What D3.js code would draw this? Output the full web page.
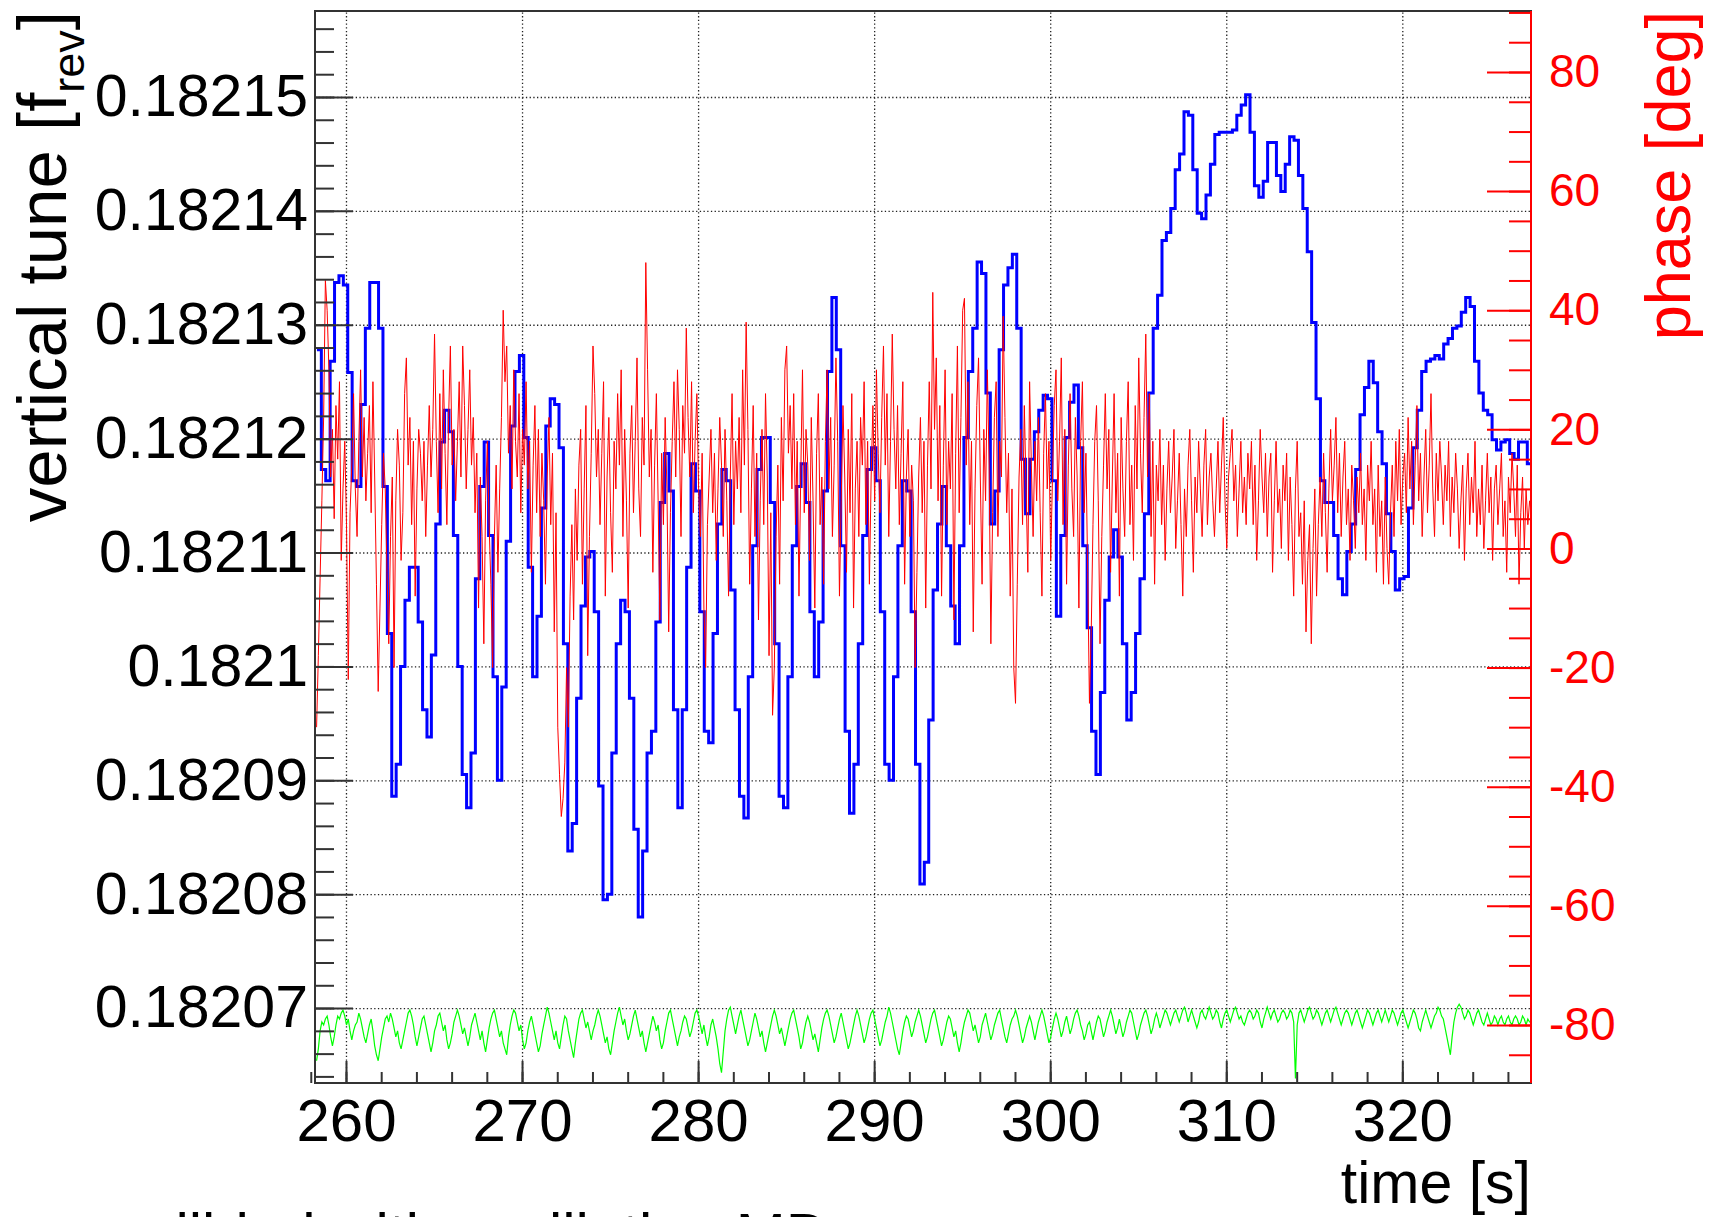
<!DOCTYPE html>
<html>
<head>
<meta charset="utf-8">
<script src="https://cdn.jsdelivr.net/npm/d3@7"></script>
<style>
  html, body { margin: 0; padding: 0; background: #fff; }
  svg { display: block; }
</style>
</head>
<body>
<div id="chart"></div>
<script>
"use strict";

/* ── Data: vertical tune (blue, left axis), sampled every 0.25 s ── */
const tuneStart = 258.35, tuneStep = 0.25;
const tuneValues = [
  0.1821278, 0.1821173, 0.1821163, 0.1821268, 0.1821337, 0.1821343, 0.1821335, 0.1821258, 0.1821163, 0.1821158,
  0.1821230, 0.1821297, 0.1821337, 0.1821337, 0.1821297, 0.1821158, 0.1821029, 0.1820886, 0.1820914, 0.1821000,
  0.1821058, 0.1821087, 0.1821087, 0.1821039, 0.1820962, 0.1820938, 0.1821010, 0.1821125, 0.1821197, 0.1821225,
  0.1821206, 0.1821115, 0.1821000, 0.1820905, 0.1820876, 0.1820924, 0.1821077, 0.1821158, 0.1821197, 0.1821115,
  0.1820991, 0.1820900, 0.1820982, 0.1821110, 0.1821211, 0.1821259, 0.1821273, 0.1821201, 0.1821087, 0.1820991,
  0.1821044, 0.1821139, 0.1821211, 0.1821235, 0.1821230, 0.1821192, 0.1821020, 0.1820838, 0.1820862, 0.1820972,
  0.1821053, 0.1821096, 0.1821101, 0.1821048, 0.1820895, 0.1820795, 0.1820800, 0.1820924, 0.1821020, 0.1821058,
  0.1821048, 0.1820972, 0.1820857, 0.1820780, 0.1820838, 0.1820924, 0.1820943, 0.1821039, 0.1821144, 0.1821187,
  0.1821154, 0.1820962, 0.1820876, 0.1820962, 0.1821087, 0.1821178, 0.1821154, 0.1821048, 0.1820943, 0.1820933,
  0.1821029, 0.1821125, 0.1821173, 0.1821163, 0.1821067, 0.1820962, 0.1820886, 0.1820867, 0.1820991, 0.1821106,
  0.1821173, 0.1821201, 0.1821201, 0.1821144, 0.1821020, 0.1820886, 0.1820876, 0.1820991, 0.1821106, 0.1821158,
  0.1821178, 0.1821144, 0.1821048, 0.1820991, 0.1821039, 0.1821154, 0.1821259, 0.1821324, 0.1821278, 0.1821106,
  0.1820943, 0.1820871, 0.1820914, 0.1821020, 0.1821115, 0.1821173, 0.1821192, 0.1821163, 0.1821048, 0.1820914,
  0.1820900, 0.1820991, 0.1821106, 0.1821163, 0.1821154, 0.1821048, 0.1820914, 0.1820809, 0.1820828, 0.1820953,
  0.1821067, 0.1821125, 0.1821158, 0.1821106, 0.1821053, 0.1821020, 0.1821106, 0.1821201, 0.1821259, 0.1821297,
  0.1821355, 0.1821345, 0.1821240, 0.1821125, 0.1821154, 0.1821278, 0.1821335, 0.1821350, 0.1821362, 0.1821297,
  0.1821182, 0.1821134, 0.1821182, 0.1821206, 0.1821225, 0.1821238, 0.1821235, 0.1821163, 0.1821044, 0.1821115,
  0.1821201, 0.1821232, 0.1821247, 0.1821192, 0.1821106, 0.1821034, 0.1820943, 0.1820905, 0.1820977, 0.1821058,
  0.1821096, 0.1821120, 0.1821096, 0.1821020, 0.1820953, 0.1820977, 0.1821029, 0.1821077, 0.1821134, 0.1821240,
  0.1821297, 0.1821326, 0.1821374, 0.1821381, 0.1821402, 0.1821436, 0.1821450, 0.1821487, 0.1821484, 0.1821436,
  0.1821398, 0.1821393, 0.1821414, 0.1821441, 0.1821467, 0.1821469, 0.1821469, 0.1821469, 0.1821471, 0.1821484,
  0.1821493, 0.1821502, 0.1821469, 0.1821422, 0.1821412, 0.1821426, 0.1821460, 0.1821460, 0.1821431, 0.1821417,
  0.1821441, 0.1821465, 0.1821462, 0.1821431, 0.1821402, 0.1821364, 0.1821302, 0.1821235, 0.1821163, 0.1821144,
  0.1821144, 0.1821115, 0.1821077, 0.1821063, 0.1821101, 0.1821125, 0.1821173, 0.1821221, 0.1821245, 0.1821268,
  0.1821249, 0.1821206, 0.1821178, 0.1821134, 0.1821101, 0.1821067, 0.1821077, 0.1821079, 0.1821139, 0.1821192,
  0.1821225, 0.1821259, 0.1821268, 0.1821270, 0.1821273, 0.1821270, 0.1821283, 0.1821288, 0.1821297, 0.1821299,
  0.1821311, 0.1821324, 0.1821316, 0.1821268, 0.1821240, 0.1821225, 0.1821221, 0.1821199, 0.1821190, 0.1821197,
  0.1821199, 0.1821187, 0.1821182, 0.1821197, 0.1821197, 0.1821178, 0.1821163
];

/* ── Data: phase [deg] (red, right axis), sampled every 0.1 s ── */
const phaseStart = 258.33, phaseStep = 0.1;
const phaseValues = [
  -30, -18, -5, 8, 22, 45, 40, 30, 12, 20,
  5, 24, 15, 28, -2, 10, 18, 4, -22, 6,
  14, 26, 10, 2, 18, 30, 12, 22, 8, 16,
  24, 6, 28, 12, -6, -24, -10, 4, 16, 10,
  -4, -16, 2, 12, -20, 8, 20, 14, -2, 6,
  26, 32, 14, 22, 4, 18, -8, 10, 20, 16,
  8, 18, 2, 14, 24, 12, 20, 36, 18, 6,
  26, 10, 30, 16, 4, 22, 34, 14, 20, 8,
  18, 28, 12, 34, 24, 10, 20, 30, 14, 22,
  6, 16, -10, 12, 2, -16, 8, 18, 4, -6,
  -20, 2, 14, -4, 10, 22, 40, 28, 34, 16,
  24, 10, 30, 18, 12, 26, 6, 20, 14, 28,
  10, 18, -4, 14, 24, 6, 20, 2, 16, 8,
  -6, 12, 22, 4, 16, -14, 6, -30, -38, -45,
  -42, -36, -20, -30, -8, 4, -12, 10, -2, 14,
  20, -6, 10, 24, -18, 2, 16, 34, 26, 12,
  20, 4, 16, 28, -8, 12, 22, 6, -4, 18,
  10, 26, 14, 30, 2, 20, 8, -10, 16, 24,
  6, 18, 32, 10, 2, 22, 14, 48, 30, 12,
  20, -4, 14, 26, 8, -12, 16, 4, 22, 10,
  -14, 6, 18, 28, 12, 30, 20, 2, 24, 16,
  37, 22, 12, 28, 6, 18, 26, 10, 2, 16,
  -10, -20, 4, 12, 20, 6, 16, -2, 10, 22,
  14, 2, 20, 8, -8, 12, 26, 4, 18, 10,
  22, 6, 30, 14, 38, 20, -6, 10, 24, 2,
  16, -12, 8, 20, 4, 26, 12, -18, 6, -28,
  -20, 2, 14, -6, 22, 8, 30, 34, 16, 24,
  10, 26, 4, 18, -8, 12, 30, 6, 20, 14,
  -2, 22, 8, -10, 16, 26, 4, 12, -6, 18,
  30, 10, 22, 2, 14, 32, 18, -8, 8, 24,
  12, -4, 20, 6, 26, -10, 10, 18, 2, 22,
  14, 28, 4, 18, -6, 12, 24, 8, 30, 16,
  6, 22, 34, 14, 26, 2, 18, 36, 20, 10,
  24, 4, 16, 28, -6, 12, 20, 2, 14, 8,
  -20, -4, 12, 22, 6, 18, -10, 14, 28, 10,
  43, 20, 32, 8, 24, -8, 14, 30, 4, 18,
  10, 26, -12, 16, 34, 6, 22, 40, 42, 14,
  28, 4, 18, -14, 10, 24, 32, 12, -6, 20,
  8, 30, 14, -16, 6, 22, 28, 2, 18, 12,
  39, 22, 6, 16, -8, 10, -20, -26, -6, 12,
  20, 4, 24, 10, -4, 28, 14, 2, 18, 8,
  22, 6, -8, 16, 26, 10, 18, -2, 12, 24,
  30, 8, 18, 32, 4, 20, -6, 14, 26, 10,
  2, 22, 12, -10, 18, 28, 6, 16, -4, -26,
  -14, 4, 18, 24, 8, -16, 2, 14, 26, 10,
  20, -4, 12, 26, 6, 16, -8, 22, 10, 2,
  18, 28, 4, 14, -2, 24, 10, 32, 16, 6,
  22, 36, 12, 26, 2, 18, -6, 14, 8, 20,
  4, 14, -2, 10, 18, 6, 12, 20, 0, 8,
  16, 4, -8, 10, 2, 14, 20, 8, -4, 12,
  6, 18, 10, 2, 14, 20, 4, 12, 16, 8,
  2, 10, 18, 6, 14, 22, 8, 0, 12, 16,
  20, 8, 14, 2, 10, 18, 6, 12, 4, 16,
  10, 18, 4, 14, -2, 8, 20, 12, 6, 16,
  2, 12, 16, -4, 8, 18, 6, 10, 0, 14,
  8, 16, -2, 12, 4, -8, 10, 18, 2, 6,
  -6, 8, -14, -2, 4, -16, 0, 10, -8, 4,
  12, 2, 16, 6, -4, 10, 20, 8, 14, 22,
  6, 16, 2, 12, 18, 4, 10, -2, 14, 8,
  0, 12, 6, 16, 4, 10, -2, 14, 8, 18,
  4, 10, -4, 14, 2, 8, -6, 12, 0, -6,
  6, 14, 2, 18, 8, 20, 4, 12, 16, 6,
  22, 10, 18, 4, 14, 24, 8, 16, 2, 12,
  20, 6, 14, 26, 10, 2, 16, 8, 18, 12,
  4, 14, 8, 18, 2, 12, 6, 16, 10, 0,
  8, 14, -2, 10, 16, 4, 12, 6, 18, 2,
  10, 4, 14, 0, 8, 16, 6, 12, -2, 10,
  14, 4, 10, 16, 2, 8, -4, 12, 6, 16,
  10, 2, 14, -6, 6, 12, 0, 10, 4, 8,
  6
];

/* ── Data: reference trace (green, right axis), sampled every 0.1 s ── */
const refStart = 258.33, refStep = 0.1;
const refValues = [
  -86, -84, -81, -79.5, -80, -79, -78.5, -80, -82, -83.5,
  -82, -80, -78.5, -79, -78, -77.5, -78.5, -80, -79, -81,
  -82.5, -81, -80, -79.5, -78, -79, -80.5, -82, -83, -81.5,
  -80, -79, -81, -83.5, -85, -86, -84, -82, -80.5, -79,
  -78.5, -79.5, -78, -79, -80.5, -82, -81, -83, -84, -82.5,
  -81, -79.5, -78, -77.5, -78.5, -80, -82, -83.5, -82, -80.5,
  -79, -78.5, -80, -81.5, -83, -84.5, -83, -81, -80, -78.5,
  -78, -79.5, -81, -80, -82.5, -84, -83, -81.5, -79.5, -78.5,
  -77.5, -78.5, -80, -81.5, -80.5, -82, -83.5, -82, -80, -79,
  -78, -79.5, -81, -82.5, -81, -83, -84.5, -82.5, -80.5, -79,
  -78, -77.5, -79, -80.5, -82, -81, -83, -84, -85, -82,
  -80, -78.5, -77.5, -78, -79.5, -81, -80, -82.5, -84, -83,
  -81, -79.5, -78.5, -80, -81.5, -83, -84.5, -83.5, -81.5, -80,
  -78.5, -77, -78, -79.5, -81, -82.5, -81, -83, -84, -82,
  -80, -78.5, -79, -81, -82.5, -84, -85.5, -83, -81, -79,
  -78, -77.5, -79, -80.5, -79.5, -81, -82.5, -81, -80, -78.5,
  -77.5, -78.5, -80, -81.5, -83, -82, -84, -85, -83, -81,
  -79.5, -78, -77, -78.5, -80, -79, -81, -82.5, -81.5, -80,
  -78.5, -77.5, -79, -80.5, -82, -81, -83, -84.5, -83, -81.5,
  -80, -78.5, -79.5, -81, -80, -82.5, -84, -83, -81, -79.5,
  -78, -77.5, -79, -80.5, -82, -83.5, -82, -81, -79.5, -78.5,
  -79, -80.5, -82, -81, -79.5, -78, -77.5, -78.5, -80, -81.5,
  -80, -82, -83.5, -82, -80, -79, -80.5, -82, -84, -86.5,
  -88, -84.5, -81, -79, -77.5, -77, -78.5, -80, -81.5, -80,
  -78.5, -77.5, -79, -80.5, -82, -83.5, -82.5, -81, -79.5, -78,
  -79, -80.5, -82, -81, -83, -84.5, -83, -81.5, -80, -78.5,
  -77.5, -78.5, -80, -81.5, -80.5, -82, -83.5, -82, -80.5, -79,
  -78, -77.5, -79, -80.5, -82, -84, -83, -81, -79.5, -78.5,
  -79.5, -81, -82.5, -81.5, -83, -84.5, -82.5, -80.5, -79, -78,
  -77.5, -78.5, -80, -81.5, -83, -82, -80.5, -79, -78, -79.5,
  -81, -82.5, -84, -83, -81.5, -80, -78.5, -77.5, -78.5, -80,
  -81.5, -83, -82, -80.5, -79, -78, -77.5, -79, -80.5, -82,
  -83.5, -82.5, -81, -79.5, -78.5, -77, -78, -79.5, -81, -82.5,
  -84, -85, -83, -81, -79.5, -78.5, -79, -80.5, -82, -81,
  -79.5, -78.5, -77.5, -78.5, -80, -81.5, -83, -82, -80.5, -79,
  -78, -77.5, -79, -80.5, -82, -83.5, -82.5, -81, -79.5, -78.5,
  -79, -80.5, -82, -81, -83, -84.5, -83, -81, -79.5, -78.5,
  -77.5, -78, -79.5, -81, -80, -81.5, -83, -82, -80, -79,
  -78, -79.5, -81, -82.5, -81.5, -80, -79, -78, -77.5, -79,
  -80.5, -82, -83, -81.5, -80, -79, -78.5, -77.5, -78.5, -80,
  -81.5, -83, -82, -80.5, -79.5, -78.5, -79.5, -81, -82.5, -81,
  -79.5, -78.5, -77.5, -78.5, -80, -81.5, -83, -82, -80.5, -79,
  -78, -79, -80.5, -82, -81, -79.5, -78.5, -80, -81.5, -80.5,
  -79, -78, -77.5, -78.5, -80, -81, -82.5, -81.5, -80, -79.5,
  -81, -82.5, -81, -79.5, -78.5, -79, -80.5, -82, -81, -79.5,
  -78.5, -77.5, -78.5, -80, -81.5, -80.5, -79, -80.5, -82, -81,
  -79.5, -78.5, -77.5, -78, -79.5, -81, -82.5, -81.5, -80, -79,
  -78, -77.5, -78.5, -80, -81.5, -80.5, -79, -78, -79, -80.5,
  -79.5, -78.5, -77.5, -78, -79, -80, -79, -78, -77.5, -78.5,
  -79.5, -78.5, -77.5, -77, -78, -79.5, -78.5, -77.5, -78.5, -79.5,
  -80.5, -79.5, -78, -77.5, -78.5, -79, -78, -77, -78, -79,
  -78.5, -77.5, -78, -79.5, -80.5, -79, -78, -77.5, -78.5, -79.5,
  -78.5, -77.5, -77, -78, -79, -78.5, -79.5, -80, -79, -78,
  -77.5, -78, -79, -78.5, -77.5, -78, -79.5, -80.5, -79, -78,
  -77, -78, -79, -78, -77.5, -78.5, -79.5, -79, -78, -77.5,
  -78, -79, -78.5, -77.5, -78, -79.5, -89, -80, -78, -77.5,
  -78.5, -79.5, -78.5, -77.5, -77, -78, -79, -78.5, -77.5, -78,
  -79, -80, -79, -78, -77.5, -78.5, -79.5, -78.5, -77.5, -77,
  -78, -79, -80, -79, -78, -77.5, -78, -79, -80, -79,
  -78, -77.5, -78.5, -79.5, -80.5, -79.5, -78.5, -77.5, -78, -79,
  -80, -79, -78, -77.5, -78.5, -79.5, -78.5, -77.5, -78.5, -79.5,
  -78.5, -77.5, -78, -79, -80, -79, -78, -77.5, -78.5, -79.5,
  -80.5, -79.5, -78.5, -77.5, -78, -79, -80.5, -81, -79.5, -78.5,
  -77.5, -78.5, -79.5, -80.5, -79.5, -78.5, -78, -77, -77.5, -78.5,
  -79, -80.5, -82, -83.5, -85, -82, -79.5, -78, -77, -76.5,
  -77, -78, -79, -78.5, -77.5, -78, -79, -80, -79, -78,
  -77.5, -78.5, -79.5, -80, -79, -78, -79, -80, -79.5, -78.5,
  -79, -80, -79, -78.5, -79.5, -80, -79, -78.5, -79.5, -80,
  -79, -78.5, -79, -80, -79.5, -78.5, -79, -80, -79, -79.5,
  -79.5
];

/* ── Axis ticks ── */
const timeTicks = [260, 270, 280, 290, 300, 310, 320];
const tuneTicks = [0.18207, 0.18208, 0.18209, 0.18210, 0.18211, 0.18212, 0.18213, 0.18214, 0.18215];
const tuneTickLabels = ["0.18207", "0.18208", "0.18209", "0.1821", "0.18211", "0.18212", "0.18213", "0.18214", "0.18215"];
const phaseTicks = [-80, -60, -40, -20, 0, 20, 40, 60, 80];

/* ── Dimensions ── */
const W = 1710, H = 1217;
const frame = { left: 315, top: 11, right: 1531, bottom: 1083 };
const FONT = "'Liberation Sans', Arial, Helvetica, sans-serif";

const svg = d3.select("#chart").append("svg")
  .attr("width", W).attr("height", H)
  .attr("font-family", FONT);

svg.append("rect").attr("width", W).attr("height", H).attr("fill", "#fff");

/* ── Scales ── */
const x      = d3.scaleLinear().domain([258.24, 327.31]).range([frame.left, frame.right]);
const yTune  = d3.scaleLinear().domain([0.18206342, 0.18215755]).range([frame.bottom, frame.top]);
const yPhase = d3.scaleLinear().domain([-89.74, 90.24]).range([frame.bottom, frame.top]);

/* ── Grid (dotted) ── */
const dotted = g => {
  g.select(".domain").remove();
  g.selectAll("line").attr("stroke", "#222").attr("stroke-width", 1.3).attr("stroke-dasharray", "1.3,2.4");
};
svg.append("g")
  .attr("transform", `translate(0,${frame.bottom})`)
  .call(d3.axisBottom(x).tickValues(timeTicks).tickSize(-(frame.bottom - frame.top)).tickFormat(""))
  .call(dotted);
svg.append("g")
  .attr("transform", `translate(${frame.left},0)`)
  .call(d3.axisLeft(yTune).tickValues(tuneTicks).tickSize(-(frame.right - frame.left)).tickFormat(""))
  .call(dotted);

/* ── Series ── */
svg.append("clipPath").attr("id", "plot-clip")
  .append("rect")
  .attr("x", frame.left).attr("y", frame.top)
  .attr("width", frame.right - frame.left).attr("height", frame.bottom - frame.top);

const plot = svg.append("g").attr("clip-path", "url(#plot-clip)");

const tunePts  = tuneValues.map((v, i) => [tuneStart + i * tuneStep, v]);
const phasePts = phaseValues.map((v, i) => [phaseStart + i * phaseStep, v]);
const refPts   = refValues.map((v, i) => [refStart + i * refStep, v]);

plot.append("path")
  .attr("d", d3.line().x(d => x(d[0])).y(d => yTune(d[1])).curve(d3.curveStepAfter)(tunePts))
  .attr("fill", "none").attr("stroke", "#0000ff").attr("stroke-width", 3);

plot.append("path")
  .attr("d", d3.line().x(d => x(d[0])).y(d => yPhase(d[1]))(phasePts))
  .attr("fill", "none").attr("stroke", "#ff0000").attr("stroke-width", 1);

plot.append("path")
  .attr("d", d3.line().x(d => x(d[0])).y(d => yPhase(d[1]))(refPts))
  .attr("fill", "none").attr("stroke", "#00ff00").attr("stroke-width", 1.2);

/* ── Frame ── */
svg.append("rect")
  .attr("x", frame.left).attr("y", frame.top)
  .attr("width", frame.right - frame.left).attr("height", frame.bottom - frame.top)
  .attr("fill", "none").attr("stroke", "#333").attr("stroke-width", 2);

/* ── Axes ── */
const styleAxis = (color, size) => g => {
  g.select(".domain").remove();
  g.selectAll("line").attr("stroke", color).attr("stroke-width", 2);
  g.selectAll("text").attr("fill", color).attr("font-size", size).attr("font-family", FONT);
};

// time axis
svg.append("g")
  .attr("transform", `translate(0,${frame.bottom})`)
  .call(d3.axisBottom(x).tickValues(d3.range(258, 328, 2)).tickSizeInner(-11).tickSizeOuter(0).tickFormat(""))
  .call(styleAxis("#333", 60));
svg.append("g")
  .attr("transform", `translate(0,${frame.bottom})`)
  .call(d3.axisBottom(x).tickValues(timeTicks).tickSizeInner(-22).tickSizeOuter(0).tickPadding(15).tickFormat(d => String(d)))
  .call(styleAxis("#333", 60))
  .call(g => g.selectAll("text").attr("fill", "#000"));

// tune axis
svg.append("g")
  .attr("transform", `translate(${frame.left},0)`)
  .call(d3.axisLeft(yTune).tickValues(d3.range(32, 79).map(i => 0.182 + i * 2e-6)).tickSizeInner(-19).tickSizeOuter(0).tickFormat(""))
  .call(styleAxis("#333", 59));
svg.append("g")
  .attr("transform", `translate(${frame.left},0)`)
  .call(d3.axisLeft(yTune).tickValues(tuneTicks).tickSizeInner(-38).tickSizeOuter(0).tickPadding(7)
    .tickFormat((d, i) => tuneTickLabels[i]))
  .call(styleAxis("#333", 59))
  .call(g => g.selectAll("text").attr("fill", "#000"));

// phase axis
svg.append("g")
  .attr("transform", `translate(${frame.right},0)`)
  .call(d3.axisRight(yPhase).tickValues(d3.range(-85, 91, 5)).tickSizeInner(-22).tickSizeOuter(0).tickFormat(""))
  .call(styleAxis("#ff0000", 46));
svg.append("g")
  .attr("transform", `translate(${frame.right},0)`)
  .call(d3.axisRight(yPhase).tickValues(phaseTicks).tickSizeInner(-44).tickSizeOuter(0).tickPadding(18)
    .tickFormat(d => String(d)))
  .call(styleAxis("#ff0000", 46));
svg.append("line")
  .attr("x1", frame.right).attr("x2", frame.right)
  .attr("y1", frame.top).attr("y2", frame.bottom)
  .attr("stroke", "#ff0000").attr("stroke-width", 2);

/* ── Axis titles ── */
svg.append("text")
  .attr("x", frame.right).attr("y", 1203)
  .attr("text-anchor", "end").attr("font-size", 59).attr("fill", "#000")
  .text("time [s]");

const yTitle = svg.append("text")
  .attr("transform", `translate(66,${frame.top}) rotate(-90)`)
  .attr("text-anchor", "end").attr("font-size", 69).attr("fill", "#000");
yTitle.append("tspan").text("vertical tune [f");
yTitle.append("tspan").attr("font-size", 45).attr("dy", 18).text("rev");
yTitle.append("tspan").attr("dy", -18).text("]");

svg.append("text")
  .attr("transform", `translate(1690,${frame.top}) rotate(-90)`)
  .attr("text-anchor", "end").attr("font-size", 63).attr("fill", "#ff0000")
  .text("phase [deg]");

/* ── Caption (cut off by the canvas edge, as in the original) ── */
svg.append("text")
  .attr("x", 829).attr("y", 1255)
  .attr("text-anchor", "end").attr("font-size", 60).attr("fill", "#000")
  .text("beam collided with oscillation MD");
</script>
</body>
</html>
